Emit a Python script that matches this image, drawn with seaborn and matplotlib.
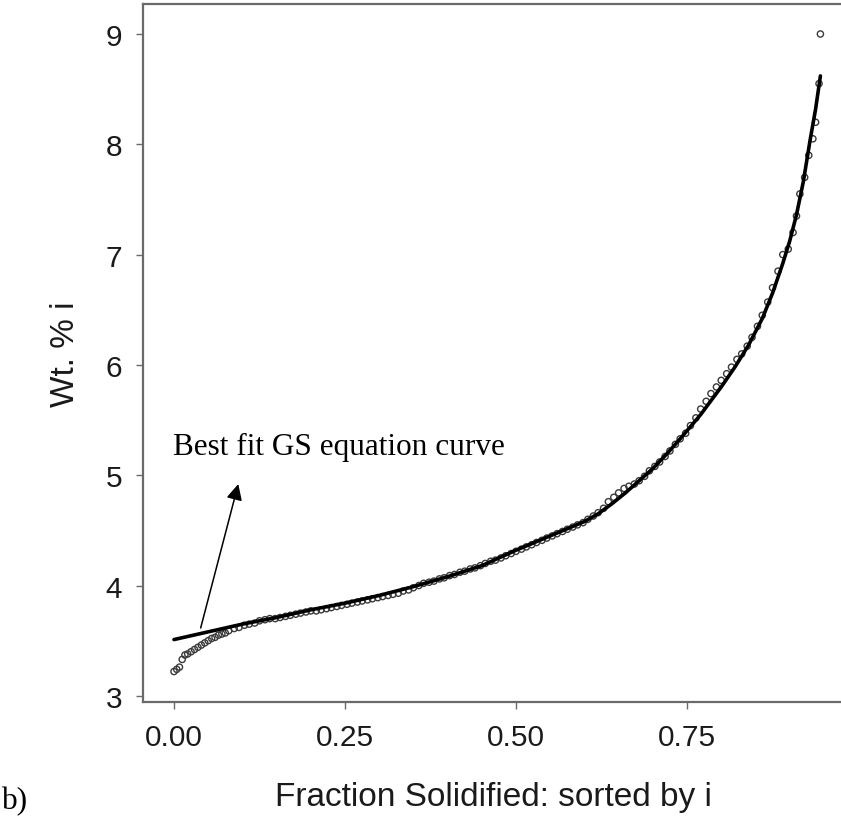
import matplotlib
matplotlib.use("Agg")
import matplotlib.pyplot as plt
import seaborn as sns
import pandas as pd

# Observed data points (fraction solidified, wt.% i)
frac = [0.000, 0.004, 0.008, 0.012, 0.016, 0.020, 0.025, 0.030, 0.035, 0.040,
        0.045, 0.050, 0.055, 0.060, 0.065, 0.070, 0.075, 0.080, 0.088, 0.095,
        0.103, 0.110, 0.118, 0.125, 0.133, 0.140, 0.148, 0.155, 0.163, 0.170,
        0.178, 0.185, 0.193, 0.200, 0.208, 0.215, 0.223, 0.230, 0.238, 0.245,
        0.253, 0.260, 0.268, 0.275, 0.283, 0.290, 0.298, 0.305, 0.313, 0.320,
        0.328, 0.335, 0.343, 0.350, 0.358, 0.365, 0.373, 0.380, 0.388, 0.395,
        0.403, 0.410, 0.418, 0.425, 0.433, 0.440, 0.448, 0.455, 0.463, 0.470,
        0.478, 0.485, 0.493, 0.500, 0.508, 0.515, 0.523, 0.530, 0.538, 0.545,
        0.553, 0.560, 0.568, 0.575, 0.583, 0.590, 0.598, 0.605, 0.613, 0.620,
        0.628, 0.635, 0.643, 0.650, 0.658, 0.665, 0.673, 0.680, 0.688, 0.695,
        0.703, 0.710, 0.718, 0.725, 0.733, 0.740, 0.748, 0.755, 0.763, 0.770,
        0.778, 0.785, 0.793, 0.800, 0.808, 0.815, 0.823, 0.830, 0.838, 0.845,
        0.853, 0.860, 0.868, 0.875, 0.883, 0.890, 0.898, 0.905, 0.910, 0.915,
        0.922, 0.928, 0.934, 0.938, 0.943, 0.945]
wt = [3.22, 3.24, 3.26, 3.33, 3.37, 3.38, 3.40, 3.42, 3.44, 3.46,
      3.48, 3.50, 3.52, 3.53, 3.55, 3.56, 3.57, 3.59, 3.61, 3.62,
      3.64, 3.65, 3.66, 3.68, 3.69, 3.70, 3.70, 3.71, 3.72, 3.73,
      3.74, 3.75, 3.76, 3.77, 3.77, 3.78, 3.79, 3.80, 3.81, 3.82,
      3.83, 3.84, 3.85, 3.86, 3.87, 3.88, 3.89, 3.90, 3.91, 3.92,
      3.93, 3.95, 3.96, 3.98, 4.00, 4.02, 4.03, 4.04, 4.06, 4.07,
      4.09, 4.10, 4.12, 4.13, 4.15, 4.16, 4.18, 4.20, 4.22, 4.23,
      4.25, 4.27, 4.29, 4.31, 4.33, 4.35, 4.37, 4.39, 4.41, 4.43,
      4.45, 4.47, 4.49, 4.51, 4.53, 4.55, 4.57, 4.60, 4.63, 4.66,
      4.70, 4.76, 4.80, 4.84, 4.88, 4.90, 4.92, 4.95, 4.99, 5.04,
      5.08, 5.12, 5.17, 5.22, 5.28, 5.33, 5.38, 5.45, 5.52, 5.60,
      5.67, 5.74, 5.80, 5.86, 5.92, 5.98, 6.05, 6.10, 6.17, 6.25,
      6.35, 6.45, 6.57, 6.70, 6.85, 7.00, 7.05, 7.20, 7.35, 7.55,
      7.70, 7.90, 8.05, 8.20, 8.55, 9.00]

# Best-fit GS equation curve
fit_frac = [0.000, 0.050, 0.100, 0.150, 0.200, 0.250, 0.300, 0.350, 0.400,
            0.450, 0.500, 0.550, 0.600, 0.620, 0.640, 0.660, 0.680, 0.700,
            0.720, 0.740, 0.770, 0.800, 0.820, 0.840, 0.860, 0.875, 0.890,
            0.900, 0.910, 0.920, 0.930, 0.938, 0.945]
fit_wt = [3.51, 3.58, 3.65, 3.71, 3.78, 3.84, 3.91, 3.99, 4.08,
          4.18, 4.32, 4.45, 4.58, 4.65, 4.74, 4.84, 4.95, 5.06,
          5.19, 5.33, 5.55, 5.80, 5.98, 6.18, 6.42, 6.65, 6.92,
          7.12, 7.36, 7.66, 8.04, 8.32, 8.62]

xticks = [0.00, 0.25, 0.50, 0.75]
xticklabels = ["0.00", "0.25", "0.50", "0.75"]
yticks = [3, 4, 5, 6, 7, 8, 9]

pts = pd.DataFrame({"frac": frac, "wt": wt})
fit = pd.DataFrame({"frac": fit_frac, "wt": fit_wt})

sns.set_theme(style="white")
plt.rcParams["font.family"] = ["Liberation Sans", "DejaVu Sans"]

fig = plt.figure(figsize=(8.41, 8.28), dpi=100)
ax = fig.add_axes([143 / 841, 1 - 703 / 828, 701 / 841, 698 / 828])

sns.scatterplot(data=pts, x="frac", y="wt", ax=ax, marker="o", s=20,
                facecolor="none", edgecolor="#3a3a3a", linewidth=1.0, zorder=3)
sns.lineplot(data=fit, x="frac", y="wt", ax=ax, color="black", linewidth=2.6,
             zorder=4, estimator=None, sort=False)

ax.set_xlim(-0.0453, 0.9795)
ax.set_ylim(2.944, 9.272)
ax.set_xticks(xticks)
ax.set_xticklabels(xticklabels)
ax.set_yticks(yticks)

for s in ax.spines.values():
    s.set_color("#6a6a6a")
    s.set_linewidth(1.6)
ax.tick_params(axis="both", which="major", direction="out", length=5, width=1,
               color="#6a6a6a", labelsize=21.5, labelcolor="#1a1a1a", pad=10,
               bottom=True, left=True)

ax.set_xlabel("Fraction Solidified: sorted by i", fontsize=24, color="#1a1a1a",
              labelpad=22)
ax.set_ylabel("Wt. % i", fontsize=24, color="#1a1a1a", labelpad=18)

ax.annotate("", xy=(0.094, 4.92), xytext=(0.039, 3.615),
            arrowprops=dict(arrowstyle="-|>", mutation_scale=24, lw=1.1,
                            color="black", shrinkA=0, shrinkB=0), zorder=5)
ax.text(-0.002, 5.26, "Best fit GS equation curve", fontsize=22.5,
        family=["Liberation Serif", "DejaVu Serif"], ha="left", va="center",
        color="black")

fig.text(2 / 841, 1 - 802 / 828, "b)", fontsize=22.5,
         family=["Liberation Serif", "DejaVu Serif"], ha="left", va="center",
         color="black")

fig.savefig("out.png", dpi=100)
